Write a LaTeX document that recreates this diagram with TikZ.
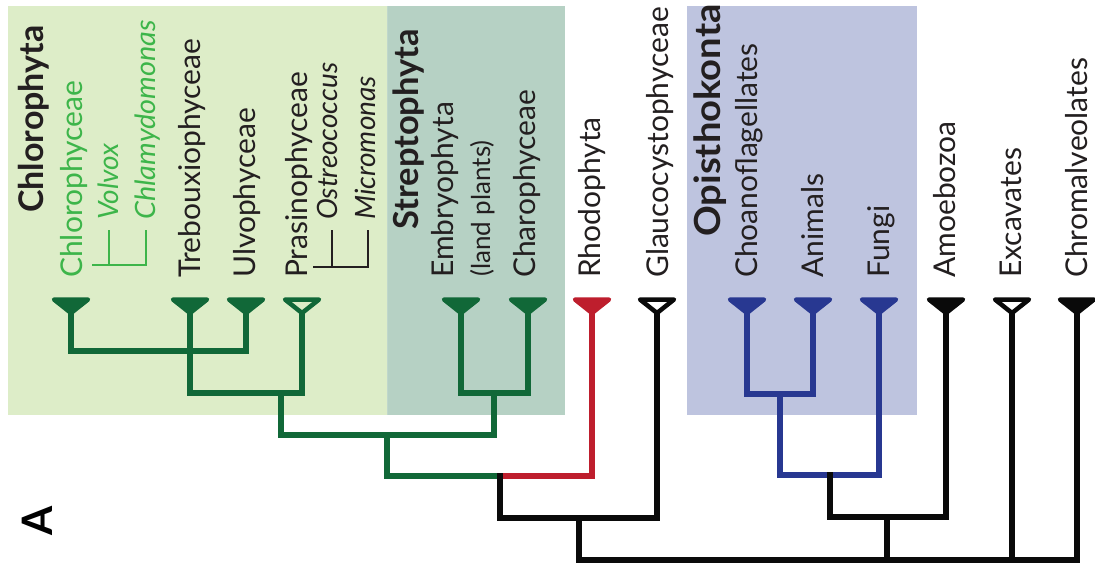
\documentclass[tikz,border=0pt]{standalone}
\usepackage{fontspec}
\setmainfont{Lato}
\definecolor{bgchl}{RGB}{221,237,200}
\definecolor{bgstr}{RGB}{182,209,196}
\definecolor{bgopi}{RGB}{190,196,223}
\definecolor{dgreen}{RGB}{17,104,56}
\definecolor{lgreen}{RGB}{61,181,74}
\definecolor{tred}{RGB}{190,30,45}
\definecolor{tblue}{RGB}{40,56,145}
\definecolor{tblack}{RGB}{10,10,10}
\definecolor{txt}{RGB}{35,31,32}
\tikzset{
  branch/.style={line width=6.5, line cap=rect, line join=miter},
  lab/.style={rotate=90, anchor=base west, inner sep=0, font=\fontsize{30}{36}\selectfont, text=txt},
  blab/.style={lab, font=\fontsize{34}{40}\selectfont\bfseries},
  ilab/.style={lab, font=\fontsize{28}{34}\selectfont\itshape},
  slab/.style={lab, font=\fontsize{26}{31}\selectfont},
  mini/.style={line width=2},
  tipfull/.pic={\path[fill, draw, line width=4.5, line join=round] (-17,0) -- (17,0) -- (0,13.5) -- cycle;},
  tipopen/.pic={\path[draw, line width=4.5, line join=round] (-17,0) -- (17,0) -- (0,13.5) -- cycle;}
}
\begin{document}
\begin{tikzpicture}[x=1pt,y=-1pt]
\useasboundingbox[fill=white] (0,0) rectangle (1095,566);
% backgrounds
\fill[bgchl] (8,6) rectangle (387,415);
\fill[bgstr] (387,6) rectangle (565,415);
\draw[line width=1, bgstr!80!dgreen!60] (387,6) -- (387,415);
\fill[bgopi] (687,6) rectangle (917,415);
% leaf coordinates (triangle apex)
\coordinate (chl) at (71,313);
\coordinate (tre) at (190,313);
\coordinate (ulv) at (246,313);
\coordinate (pra) at (302,313);
\coordinate (emb) at (461,313);
\coordinate (cha) at (528,313);
\coordinate (rho) at (592,313);
\coordinate (gla) at (657,313);
\coordinate (cho) at (747,313);
\coordinate (ani) at (813,313);
\coordinate (fun) at (879,313);
\coordinate (amo) at (946,313);
\coordinate (exc) at (1012,313);
\coordinate (chr) at (1077,313);
% internal nodes
\coordinate (n1) at (190,351);
\coordinate (n2) at (281,393);
\coordinate (n3) at (494,393);
\coordinate (n4) at (387,435);
\coordinate (n5) at (500,476);
\coordinate (n6) at (579,518);
\coordinate (n7) at (780,394);
\coordinate (n8) at (830,475);
\coordinate (n9) at (887,517);
\coordinate (root) at (887,560);
% branches
\draw[branch, dgreen] (chl) |- (n1) (tre) |- (n1) (ulv) |- (n1)
  (n1) |- (n2) (pra) |- (n2) (emb) |- (n3) (cha) |- (n3)
  (n2) |- (n4) (n3) |- (n4) (n4) |- (n5);
\draw[branch, tred] (rho) |- (n5);
\draw[branch, tblue] (cho) |- (n7) (ani) |- (n7) (n7) |- (n8) (fun) |- (n8);
\draw[branch, tblack] (n5) |- (n6) (gla) |- (n6) (n6) |- (root)
  (n8) |- (n9) (amo) |- (n9) (n9) |- (root) (exc) |- (root) (chr) |- (root);
% tips
\pic[dgreen] at (71,299.5) {tipfull};
\pic[dgreen] at (190,299.5) {tipfull};
\pic[dgreen] at (246,299.5) {tipfull};
\pic[dgreen] at (302,299.5) {tipopen};
\pic[dgreen] at (461,299.5) {tipfull};
\pic[dgreen] at (528,299.5) {tipfull};
\pic[tred] at (592,299.5) {tipfull};
\pic[tblack] at (657,299.5) {tipopen};
\pic[tblue] at (747,299.5) {tipfull};
\pic[tblue] at (813,299.5) {tipfull};
\pic[tblue] at (879,299.5) {tipfull};
\pic[tblack] at (946,299.5) {tipfull};
\pic[tblack] at (1012,299.5) {tipopen};
\pic[tblack] at (1077,299.5) {tipfull};
% labels
\node[blab] (lchlorophyta) at (43.2,213) {Chlorophyta};
\node[lab, text=lgreen] (lchlorophyceae) at (82.3,278) {Chlorophyceae};
\node[ilab, text=lgreen] (lvolvox) at (118.5,220) {Volvox};
\node[ilab, text=lgreen] (lchlamy) at (155,220) {\scalebox{1.03}[1]{Chlamydomonas}};
\node[lab] (ltreb) at (200.8,278) {Trebouxiophyceae};
\node[lab] (lulvo) at (255.8,278) {Ulvophyceae};
\node[lab] (lprasino) at (307.3,278) {Prasinophyceae};
\node[ilab] (lostreo) at (337.5,220) {Ostreococcus};
\node[ilab] (lmicro) at (375,220) {Micromonas};
\node[blab, font=\fontsize{34.5}{40}\selectfont\bfseries] (lstrepto) at (418.4,230) {Streptophyta};
\node[lab] (lembryo) at (453.3,278) {Embryophyta};
\node[slab] (lland) at (490,277) {(land plants)};
\node[lab] (lcharo) at (535.3,278) {Charophyceae};
\node[lab] (lrhodo) at (600.8,278) {Rhodophyta};
\node[lab] (lglauco) at (668.3,278) {Glaucocystophyceae};
\node[blab, font=\fontsize{36}{42}\selectfont\bfseries] (lopis) at (720.4,237) {\scalebox{1.06}[1]{Opisthokonta}};
\node[lab] (lchoano) at (757.3,278) {Choanoflagellates};
\node[lab] (lanimals) at (823.3,278) {Animals};
\node[lab] (lfungi) at (889.3,278) {Fungi};
\node[lab] (lamoeb) at (955.3,278) {Amoebozoa};
\node[lab] (lexcav) at (1021.3,278) {Excavates};
\node[lab] (lchrom) at (1087.3,278) {Chromalveolates};
% small brackets
\coordinate (gbr) at (92,265);
\coordinate (gva) at (109,230);
\coordinate (gvb) at (146,230);
\draw[mini, lgreen] (gvb) |- (gbr) (gva) -- (gva |- gbr);
\coordinate (kbr) at (313,267);
\coordinate (kva) at (332,230);
\coordinate (kvb) at (368,230);
\draw[mini, txt] (kvb) |- (kbr) (kva) -- (kva |- kbr);
% panel letter
\node[rotate=90, inner sep=0, font=\fontsize{42}{50}\selectfont\bfseries] (panel) at (37,521) {A};
\end{tikzpicture}
\end{document}
